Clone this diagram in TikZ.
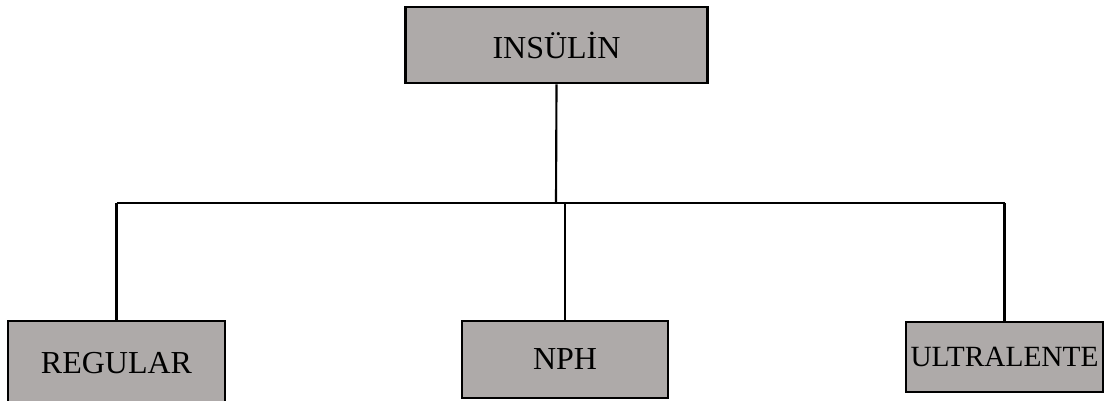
\documentclass[tikz,border=0pt]{standalone}
\usepackage{fontspec}
\setmainfont{Liberation Serif}
\usepackage{tikz}
\usetikzlibrary{positioning}
\definecolor{boxgray}{RGB}{174,170,169}

\begin{document}
\begin{tikzpicture}[line cap=round,line join=round, x=0.75pt,y=0.75pt,
  box/.style={draw=black, line width=1.9pt, line cap=butt, line join=miter, fill=boxgray, inner sep=0pt, font=\fontsize{24}{28}\selectfont},
  link/.style={line width=1.6pt, line cap=butt}]
\clip(0,0) rectangle (1109,400);
\node [box, minimum width=226.5pt, minimum height=57pt] (insulin) at (556.5,355) {INSÜLİN};
\node [box, minimum width=162.75pt, minimum height=63pt] (regular) at (116.5,37) {REGULAR};
\node [box, minimum width=154.5pt, minimum height=57.75pt] (nph) at (565,40.5) {NPH};
\node [box, minimum width=147.75pt, minimum height=52.5pt, font=\fontsize{22}{26}\selectfont] (ultralente) at (1004.5,43) {ULTRALENTE};
\coordinate (hub) at (556,197);
\draw [link] (insulin.south) -- (hub);
\draw [link] (regular.north |- hub) -- (ultralente.north |- hub);
\foreach \n in {regular,nph,ultralente}
  \draw [link] (\n.north |- hub) -- (\n.north);
\end{tikzpicture}
\end{document}
